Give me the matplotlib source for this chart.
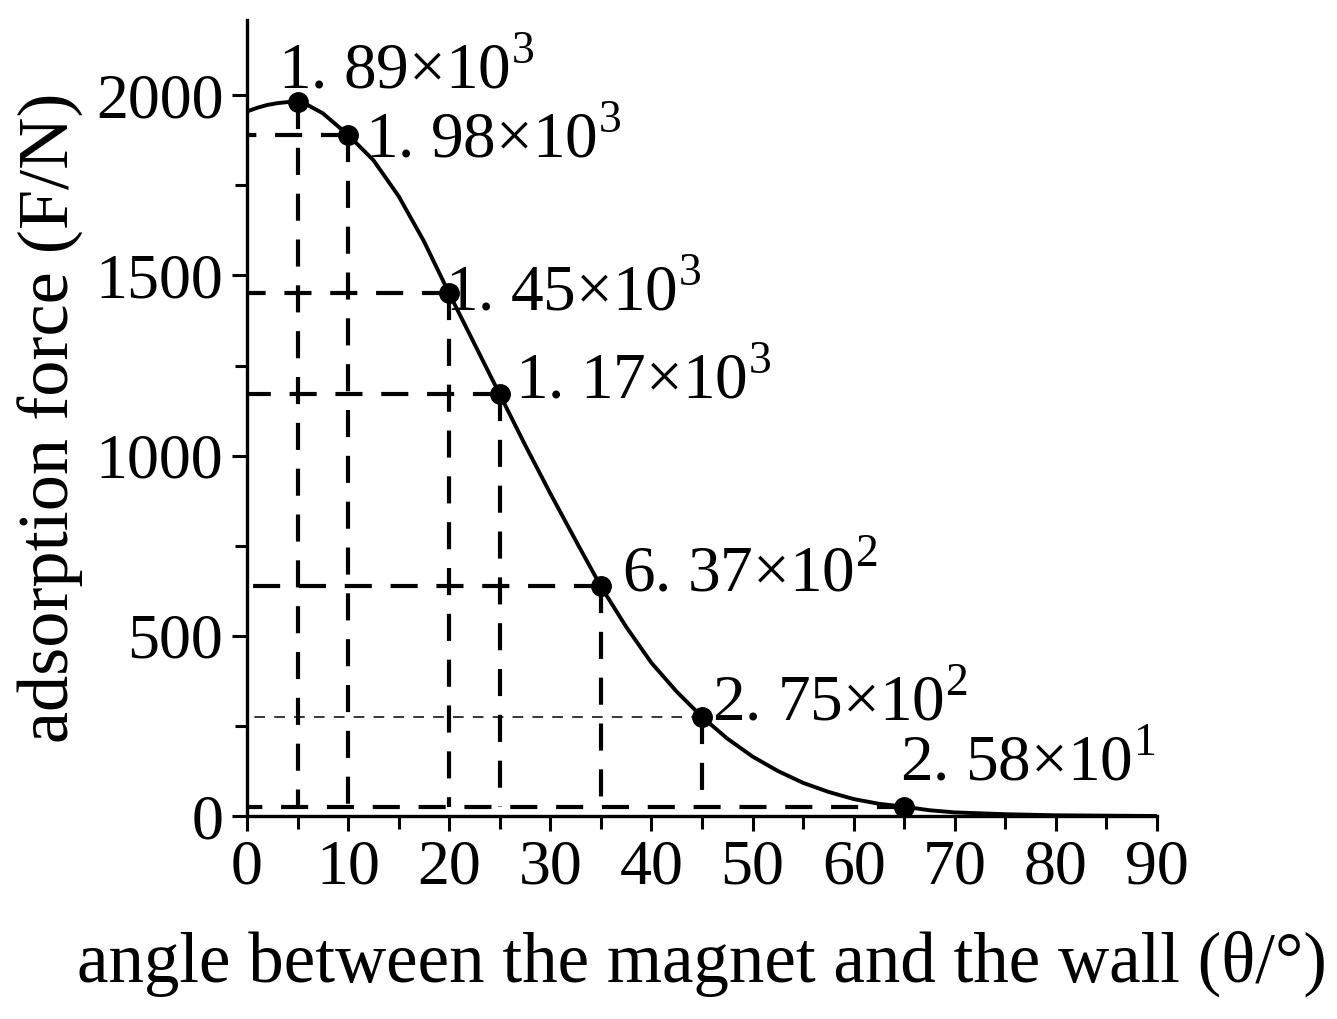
import matplotlib
matplotlib.use("Agg")
import matplotlib.pyplot as plt
from matplotlib.ticker import MultipleLocator

plt.rcParams['font.family'] = ['Liberation Serif', 'DejaVu Serif']
plt.rcParams['mathtext.fontset'] = 'custom'
plt.rcParams['mathtext.rm'] = 'Liberation Serif'

# smooth curve
curve_angle = [0, 1, 2, 3, 4, 5, 6, 7.5, 10, 12.5, 15, 17.5, 20, 22.5, 25, 27.5,
               30, 32.5, 35, 37.5, 40, 42.5, 45, 47.5, 50, 52.5, 55, 57.5, 60,
               62.5, 65, 67.5, 70, 75, 80, 85, 90]
curve_force = [1955, 1965, 1973, 1978, 1981, 1980, 1973, 1950, 1890, 1820, 1720,
               1595, 1450, 1310, 1170, 1030, 895, 765, 637, 525, 425, 345, 275,
               215, 165, 125, 92, 67, 47, 34, 25.8, 16, 10, 5, 2, 1, 0]

# marked points
pt_angle = [5, 10, 20, 25, 35, 45, 65]
pt_force = [1980, 1890, 1450, 1170, 637, 275, 25.8]
pt_mant = ['1. 89', '1. 98', '1. 45', '1. 17', '6. 37', '2. 75', '2. 58']
pt_exp = [3, 3, 3, 3, 2, 2, 1]
label_x = [3.1, 11.7, 19.6, 26.5, 37.1, 46.0, 64.6]
label_y = [2019, 1826, 1403, 1157, 624, 265, 99]

fig = plt.figure(figsize=(13.37, 10.19), dpi=100)
ax = fig.add_axes([0.1847, 0.1992, 0.6807, 0.7816])

dash = (0, (6.5, 4.5))
base = pt_force[-1]
for a, f in zip(pt_angle, pt_force):
    if a == 65:
        ax.plot([a, 0], [f, f], color='black', lw=3, ls=dash)
        continue
    # vertical down to the bottom guide line
    ax.plot([a, a], [f, base], color='black', lw=3, ls=dash)
    if a == 5:
        continue
    if a == 45:
        ax.plot([a, 0], [f, f], color='black', lw=1.1, ls=(0, (7, 6)))
    else:
        ax.plot([a, 0], [f, f], color='black', lw=3, ls=dash)

ax.plot(curve_angle, curve_force, color='black', lw=2.8)
ax.plot(pt_angle, pt_force, 'o', color='black', ms=14)

for lx, ly, m, e in zip(label_x, label_y, pt_mant, pt_exp):
    ax.text(lx, ly, m + r'$\times$10$^{%d}$' % e, fontsize=47,
            va='baseline', ha='left')

ax.set_xlim(0, 90)
ax.set_ylim(0, 2210)
ax.xaxis.set_major_locator(MultipleLocator(10))
ax.xaxis.set_minor_locator(MultipleLocator(5))
ax.yaxis.set_major_locator(MultipleLocator(500))
ax.yaxis.set_minor_locator(MultipleLocator(250))
ax.spines['top'].set_visible(False)
ax.spines['right'].set_visible(False)
for s in ('left', 'bottom'):
    ax.spines[s].set_linewidth(2.4)
ax.tick_params(which='major', length=11, width=2.2, labelsize=46, pad=6)
ax.tick_params(which='minor', length=9, width=2.2)

ax.set_xlabel('angle between the magnet and the wall (θ/°)', fontsize=51, labelpad=24)
ax.set_ylabel('adsorption force (F/N)', fontsize=52, labelpad=8)

fig.savefig('out.png', dpi=100)
